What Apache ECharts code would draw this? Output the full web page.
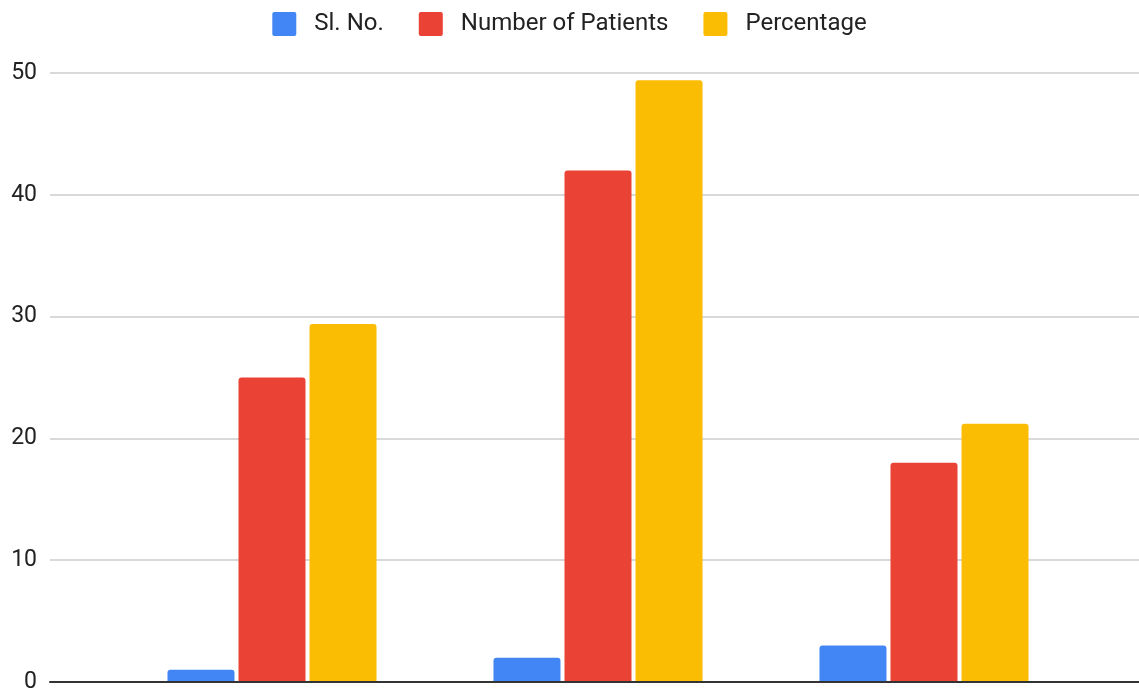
<!DOCTYPE html>
<html>
<head>
<meta charset="utf-8">
<style>
  html, body { margin: 0; padding: 0; background: #fff; }
  #chart { width: 1139px; height: 689px; }
</style>
<script src="https://cdn.jsdelivr.net/npm/echarts@6/dist/echarts.min.js"></script>
</head>
<body>
<div id="chart"></div>
<script>
// Patient distribution by group
const categories = ['1', '2', '3'];
const slNo = [1, 2, 3];
const numberOfPatients = [25, 42, 18];
const percentage = [29.4, 49.4, 21.2];
const yTicks = { min: 0, max: 50, interval: 10 };

const FONT = 'Roboto, "Noto Sans", Arial, sans-serif';
const chart = echarts.init(document.getElementById('chart'), null, { renderer: 'canvas' });

// small square with slightly rounded corners for the legend keys
const KEY_ICON = 'path://M2,0 H22 A2,2 0 0 1 24,2 V22 A2,2 0 0 1 22,24 H2 A2,2 0 0 1 0,22 V2 A2,2 0 0 1 2,0 Z';

function barSeries(name, data, color) {
  return {
    name: name,
    type: 'bar',
    xAxisIndex: 1,
    yAxisIndex: 1,
    data: data,
    barWidth: 67,
    barGap: '6%',
    itemStyle: { color: color, borderRadius: [3, 3, 0, 0] },
    emphasis: { disabled: true }
  };
}

chart.setOption({
  animation: false,
  backgroundColor: '#ffffff',
  color: ['#4285F4', '#EA4335', '#FBBC04'],
  legend: {
    top: 12,
    left: 'center',
    padding: 0,
    itemWidth: 24,
    itemHeight: 24,
    itemGap: 35,
    icon: KEY_ICON,
    textStyle: { fontFamily: FONT, fontSize: 24, color: '#222', padding: [0, 0, 0, 13] },
    data: ['Sl. No.', 'Number of Patients', 'Percentage']
  },
  grid: [
    // full-width grid carrying the value labels, gridlines and baseline
    { left: 50, right: 0, top: 73, bottom: 7, containLabel: false, outerBoundsMode: 'none' },
    // grid holding the bar groups
    { left: 109, right: 52, top: 73, bottom: 7, containLabel: false, outerBoundsMode: 'none' }
  ],
  xAxis: [
    {
      gridIndex: 0,
      type: 'category',
      data: categories,
      axisLine: { show: true, lineStyle: { color: '#333', width: 2 } },
      axisTick: { show: false },
      axisLabel: { show: false },
      z: 5
    },
    {
      gridIndex: 1,
      type: 'category',
      data: categories,
      axisLine: { show: false },
      axisTick: { show: false },
      axisLabel: { show: false }
    }
  ],
  yAxis: [
    {
      gridIndex: 0,
      type: 'value',
      min: yTicks.min,
      max: yTicks.max,
      interval: yTicks.interval,
      axisLine: { show: false },
      axisTick: { show: false },
      axisLabel: { fontFamily: FONT, fontSize: 23, color: '#222', margin: 13 },
      splitLine: { lineStyle: { color: '#cccccc', width: 1.5 } }
    },
    {
      gridIndex: 1,
      type: 'value',
      min: yTicks.min,
      max: yTicks.max,
      interval: yTicks.interval,
      axisLine: { show: false },
      axisTick: { show: false },
      axisLabel: { show: false },
      splitLine: { show: false }
    }
  ],
  series: [
    barSeries('Sl. No.', slNo, '#4285F4'),
    barSeries('Number of Patients', numberOfPatients, '#EA4335'),
    barSeries('Percentage', percentage, '#FBBC04')
  ]
});
</script>
</body>
</html>
